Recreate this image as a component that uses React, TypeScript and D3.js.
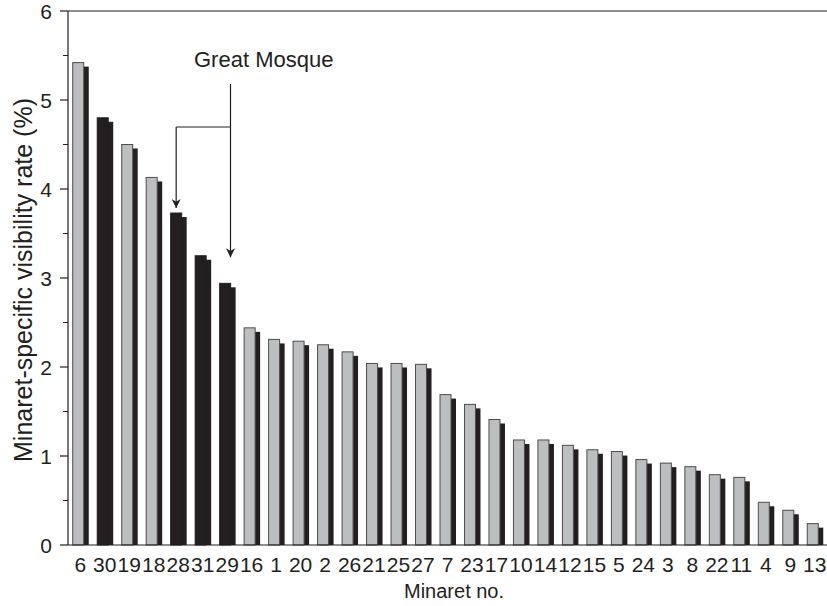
import React from "react";
import * as d3 from "d3";

const minarets = ["6","30","19","18","28","31","29","16","1","20","2","26","21","25","27","7","23","17","10","14","12","15","5","24","3","8","22","11","4","9","13"];
const rates = [5.42,4.80,4.50,4.13,3.73,3.25,2.94,2.44,2.31,2.29,2.25,2.17,2.04,2.04,2.03,1.69,1.58,1.41,1.18,1.18,1.12,1.07,1.05,0.96,0.92,0.88,0.79,0.76,0.48,0.39,0.24];
const darkMinarets = ["30","28","31","29"];
const greatMosque = ["28","29"];
const yTicks = [0,1,2,3,4,5,6];
const yMinorTicks = [0.5,1.5,2.5,3.5,4.5,5.5];

const W = 827, H = 606;
const left = 68, right = 827, top = 11, bottom = 545;
const FONT = "'Liberation Sans', Arial, sans-serif";

export default function App() {
  const x = d3.scaleBand().domain(minarets).range([left, right]).padding(0);
  const y = d3.scaleLinear().domain([0, 6]).range([bottom, top]);
  const gray = "#bcbec0";
  const dark = "#231f20";

  const c28 = (x(greatMosque[0]) as number) + x.bandwidth() / 2;
  const v28 = rates[minarets.indexOf(greatMosque[0])];
  const v29 = rates[minarets.indexOf(greatMosque[1])];
  const vx = 230.5;
  const lx = c28 - 2;

  return (
    <svg width={W} height={H} style={{ position: "absolute", left: 0, top: 0, background: "#fff" }} fontFamily={FONT}>
      <defs>
        <marker id="ah" viewBox="0 0 10 10" refX="10" refY="5" markerWidth="9" markerHeight="9" orient="auto" markerUnits="userSpaceOnUse">
          <path d="M0,0 L10,5 L0,10 L3,5 z" fill={dark} />
        </marker>
      </defs>
      {minarets.map((m, i) => {
        const c = (x(m) as number) + x.bandwidth() / 2;
        const v = rates[i];
        const isDark = darkMinarets.includes(m);
        const yt = y(v);
        return (
          <g key={m}>
            <rect x={c - 2.5} y={yt + 4} width={11} height={bottom - yt - 4} fill={dark} />
            <rect x={c - 7.5} y={yt} width={11} height={bottom - yt} fill={isDark ? dark : gray} stroke={isDark ? dark : "#4d4d4f"} strokeWidth={1} />
          </g>
        );
      })}
      <line x1={left} x2={left} y1={top} y2={bottom} stroke={dark} strokeWidth={1.2} />
      <line x1={left} x2={right} y1={bottom} y2={bottom} stroke={dark} strokeWidth={1.2} />
      <line x1={left} x2={right} y1={top} y2={top} stroke={dark} strokeWidth={1.2} />
      {yTicks.map((t) => (
        <g key={"t" + t}>
          <line x1={left - 8} x2={left} y1={y(t)} y2={y(t)} stroke={dark} strokeWidth={1.2} />
          <text x={52} y={y(t)} dy="0.36em" textAnchor="end" fontSize={21} fill={dark}>{t}</text>
        </g>
      ))}
      {yMinorTicks.map((t) => (
        <line key={"m" + t} x1={left - 5} x2={left} y1={y(t)} y2={y(t)} stroke={dark} strokeWidth={1} />
      ))}
      {minarets.map((m) => (
        <text key={"l" + m} x={(x(m) as number) + x.bandwidth() / 2} y={572} textAnchor="middle" fontSize={21} fill={dark}>{m}</text>
      ))}
      <text x={404} y={598} textAnchor="start" fontSize={20} fill={dark}>Minaret no.</text>
      <text transform={`translate(32,280) rotate(-90)`} textAnchor="middle" fontSize={25} fill={dark}>Minaret-specific visibility rate (%)</text>
      <text x={194} y={67} textAnchor="start" fontSize={22} fill={dark}>Great Mosque</text>
      <line x1={vx} x2={vx} y1={84} y2={y(v29) - 26} stroke={dark} strokeWidth={1.2} markerEnd="url(#ah)" />
      <line x1={lx} x2={vx} y1={127} y2={127} stroke={dark} strokeWidth={1.2} />
      <line x1={lx} x2={lx} y1={127} y2={y(v28) - 5} stroke={dark} strokeWidth={1.2} markerEnd="url(#ah)" />
    </svg>
  );
}
